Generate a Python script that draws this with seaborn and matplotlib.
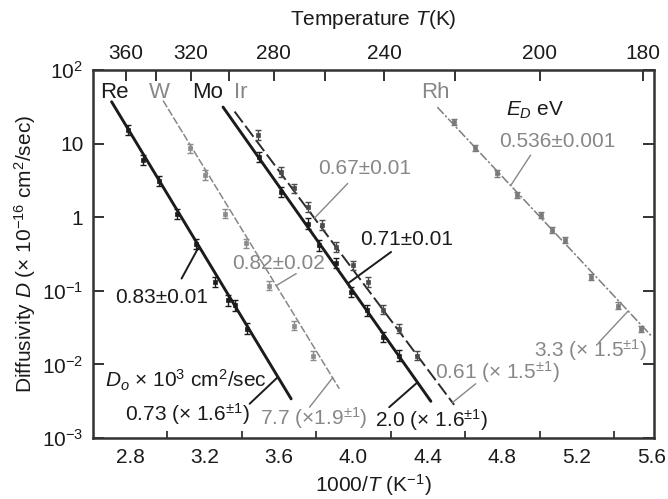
import numpy as np
import pandas as pd
import matplotlib
matplotlib.use("Agg")
import matplotlib.pyplot as plt
import seaborn as sns

# Arrhenius fit parameters for each adatom
metals = ["Re", "W", "Mo", "Ir", "Rh"]
E_D = [0.83, 0.82, 0.71, 0.67, 0.536]          # eV
E_err = ["0.01", "0.02", "0.01", "0.01", "0.001"]
D0 = [0.73, 7.7, 2.0, 0.61, 3.3]               # x 10^-3 cm^2/sec
D0_text = ["0.73", "7.7", "2.0", "0.61", "3.3"]
D0_factor = ["1.6", "1.9", "1.6", "1.5", "1.5"]
fit_start = [2.70, 2.977, 3.299, 3.361, 4.451]  # 1000/T range of each fit line
fit_end = [3.665, 3.924, 4.416, 4.541, 5.60]

# Measured diffusivities: 1000/T (K^-1) and D (x 10^-16 cm^2/sec)
re_x = [2.789, 2.870, 2.954, 3.052, 3.151, 3.254, 3.325, 3.365, 3.427]
re_d = [15.3, 5.97, 3.12, 1.10, 0.43, 0.132, 0.0743, 0.0635, 0.0306]
w_x = [3.124, 3.201, 3.308, 3.424, 3.545, 3.683, 3.785]
w_d = [8.6, 3.72, 1.12, 0.44, 0.118, 0.0337, 0.0132]
mo_x = [3.490, 3.612, 3.754, 3.817, 3.907, 3.987, 4.073, 4.160, 4.246]
mo_d = [6.6, 2.21, 0.82, 0.416, 0.240, 0.0964, 0.0543, 0.0235, 0.0132]
ir_x = [3.486, 3.612, 3.678, 3.754, 3.830, 3.907, 3.996, 4.076, 4.157, 4.246, 4.339]
ir_d = [13.1, 4.13, 2.46, 1.38, 0.778, 0.394, 0.222, 0.132, 0.0555, 0.0306, 0.0132]
rh_x = [4.541, 4.654, 4.770, 4.880, 5.009, 5.065, 5.136, 5.277, 5.422, 5.547]
rh_d = [19.8, 8.6, 3.93, 1.99, 1.06, 0.665, 0.486, 0.153, 0.0631, 0.0304]
err_factor = [1.18, 1.16, 1.18, 1.16, 1.10]

# Axis ticks
x_major = [2.8, 3.2, 3.6, 4.0, 4.4, 4.8, 5.2, 5.6]
x_minor = [3.0, 3.4, 3.8, 4.2, 4.6, 5.0, 5.4]
y_ticks = [1e-3, 1e-2, 1e-1, 1, 10, 100]
y_labels = ["10$^{-3}$", "10$^{-2}$", "10$^{-1}$", "1", "10", "10$^{2}$"]
T_ticks = [360, 340, 320, 300, 280, 260, 240, 220, 200, 180]
T_labels = ["360", "", "320", "", "280", "", "240", "", "200", "180"]

sns.set_theme(style="white")
plt.rcParams["font.family"] = ["Liberation Sans", "DejaVu Sans"]
plt.rcParams["mathtext.fontset"] = "custom"
plt.rcParams["mathtext.rm"] = "Liberation Sans"
plt.rcParams["mathtext.it"] = "Liberation Sans:italic"
plt.rcParams["mathtext.bf"] = "Liberation Sans:bold"

BLACK = "#1b1b1b"
GRAY = "#878787"
colors = [BLACK, GRAY, BLACK, "#2b2b2b", "#7d7d7d"]
text_colors = [BLACK, GRAY, BLACK, GRAY, GRAY]
lead_colors = [BLACK, GRAY, BLACK, GRAY, GRAY]
marker_colors = [BLACK, "#8c8c8c", BLACK, "#4a4a4a", "#7a7a7a"]
line_styles = ["-", (0, (5, 1.4)), "-", (0, (7, 2.2)), (0, (6, 1.4, 1.5, 1.4))]
line_widths = [2.1, 1.1, 2.1, 1.4, 1.1]

K_B = 8.617e-5  # eV/K


def arrhenius(x, i):
    """D in units of 1e-16 cm^2/sec at 1000/T = x."""
    return D0[i] * 1e13 * np.exp(-E_D[i] * np.asarray(x) * 1e-3 / K_B)


fig = plt.figure(figsize=(6.68, 4.99), dpi=100)
ax = fig.add_axes([0.1392, 0.1222, 0.8398, 0.7375])
ax.set_yscale("log")

# fitted Arrhenius lines
for i, m in enumerate(metals):
    xs = np.linspace(fit_start[i], fit_end[i], 60)
    df = pd.DataFrame({"x": xs, "D": arrhenius(xs, i)})
    sns.lineplot(data=df, x="x", y="D", ax=ax, color=colors[i],
                 linestyle=line_styles[i], linewidth=line_widths[i],
                 legend=False, zorder=2)

# data points with error bars
series = [(re_x, re_d), (w_x, w_d), (mo_x, mo_d), (ir_x, ir_d), (rh_x, rh_d)]
for i, (xs, ds) in enumerate(series):
    ds = np.asarray(ds)
    f = err_factor[i]
    ax.errorbar(xs, ds, yerr=[ds - ds / f, ds * f - ds], fmt="none",
                ecolor=marker_colors[i], elinewidth=1.0, capsize=2.3,
                capthick=1.0, zorder=3)
    sns.scatterplot(x=xs, y=ds, ax=ax, marker="s", s=12, color=marker_colors[i],
                    edgecolor=marker_colors[i], linewidth=0.5, zorder=4,
                    legend=False)

FS = 15
# metal names along the top
name_x = [2.713, 2.959, 3.214, 3.394, 4.439]
for i, m in enumerate(metals):
    ax.text(name_x[i], 50, m, color=text_colors[i], fontsize=FS + 1,
            ha="center", va="center")

ax.text(4.975, 28.6, "$E_D$ eV", color=BLACK, fontsize=FS, ha="center", va="center")

# activation energy labels and leaders
e_pos = [(2.967, 0.0804), (3.597, 0.237), (4.286, 0.502), (4.058, 4.64), (5.093, 10.6)]
e_lead_from = [(3.076, -0.834), (3.692, -0.766), (4.202, -0.472), (3.969, 0.459), (4.952, 0.844)]
e_lead_to = [3.170, 3.585, 3.969, 3.790, 4.845]
for i in range(len(metals)):
    ax.text(*e_pos[i], f"{E_D[i]}±{E_err[i]}",
            color=text_colors[i], fontsize=FS, ha="center", va="center")
    x0, ly0 = e_lead_from[i]
    x1 = e_lead_to[i]
    ax.plot([x0, x1], [10 ** ly0, arrhenius(x1, i)], color=lead_colors[i],
            lw=1.4 if text_colors[i] == BLACK else 1.0, zorder=2)

ax.text(3.102, 0.00605, "$D_o$ × 10$^3$ cm$^2$/sec", color=BLACK, fontsize=FS,
        ha="center", va="center")

# prefactor labels and leaders
d_pos = [(3.109, 0.00215), (3.785, 0.00184), (4.418, 0.00173), (4.772, 0.00785), (5.274, 0.0155)]
d_lead_from = [(3.442, -2.535), (3.764, -2.581), (4.192, -2.581), (4.657, -2.263), (5.319, -1.701)]
d_lead_to = [3.594, 3.888, 4.344, 4.532, 5.476]
for i in range(len(metals)):
    sep = "×" if i == 1 else "× "
    ax.text(*d_pos[i], f"{D0_text[i]} ({sep}{D0_factor[i]}$^{{\\pm 1}}$)",
            color=text_colors[i], fontsize=FS, ha="center", va="center")
    x0, ly0 = d_lead_from[i]
    x1 = d_lead_to[i]
    ax.plot([x0, x1], [10 ** ly0, arrhenius(x1, i)], color=lead_colors[i],
            lw=1.4 if text_colors[i] == BLACK else 1.0, zorder=2)

# axes, ticks and labels
ax.set_xlim(2.6, 5.615)
ax.set_ylim(1e-3, 1e2)
ax.set_xticks(x_major)
ax.set_xticklabels([f"{v:.1f}" for v in x_major])
ax.set_xticks(x_minor, minor=True)
ax.set_yticks(y_ticks)
ax.set_yticklabels(y_labels)
ax.yaxis.set_minor_locator(matplotlib.ticker.NullLocator())
ax.tick_params(axis="both", which="major", direction="in", length=8, width=1.4,
               color="#333333", labelsize=FS, labelcolor=BLACK, pad=7)
ax.tick_params(axis="x", which="minor", direction="in", length=5, width=1.3,
               color="#333333", bottom=True)
ax.tick_params(axis="y", right=True, left=True)
ax.tick_params(axis="x", top=False)
for s in ax.spines.values():
    s.set_visible(True)
    s.set_linewidth(1.8)
    s.set_color("#333333")

ax.set_xlabel("1000/$T$ (K$^{-1}$)", fontsize=FS, color=BLACK, labelpad=4)
ax.set_ylabel("Diffusivity $D$ (× 10$^{-16}$ cm$^2$/sec)", fontsize=FS, color=BLACK,
              labelpad=3)


def inv(v):
    v = np.asarray(v, dtype=float)
    with np.errstate(divide="ignore", invalid="ignore"):
        return 1000.0 / v


sec = ax.secondary_xaxis("top", functions=(inv, inv))
sec.set_xticks(T_ticks)
sec.set_xticklabels(T_labels)
sec.tick_params(direction="in", length=8, width=1.4, color="#333333",
                labelsize=FS, labelcolor=BLACK, pad=5)
sec.spines["top"].set_visible(False)
sec.set_xlabel("Temperature $T$(K)", fontsize=FS, color=BLACK, labelpad=14)

fig.savefig("out.png", dpi=100, facecolor="white")
